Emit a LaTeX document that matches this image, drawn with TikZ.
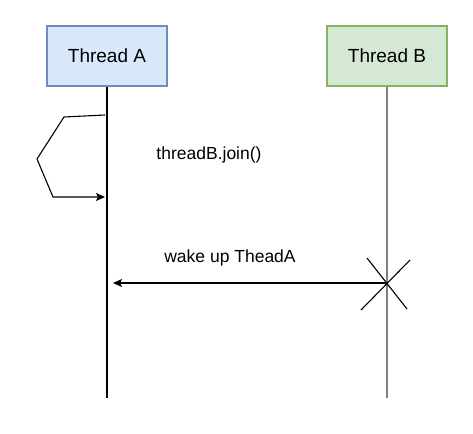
\documentclass[tikz,border=0pt]{standalone}
\usepackage{fontspec}
\setmainfont{Liberation Sans}
\usetikzlibrary{arrows.meta}
\definecolor{blfill}{HTML}{DAE8FC}
\definecolor{bldraw}{HTML}{6C8EBF}
\definecolor{grfill}{HTML}{D5E8D4}
\definecolor{grdraw}{HTML}{82B366}
\begin{document}
\begin{tikzpicture}[x=1pt,y=-1pt,
  thread/.style={draw, line width=1.1pt, minimum width=120pt, minimum height=60pt, inner sep=0pt, font=\fontsize{19}{22}\selectfont},
  lbl/.style={font=\fontsize{17.5}{20}\selectfont, inner sep=0pt},
  msg/.style={line width=1.1pt, -{Stealth[length=9pt,width=8pt,inset=2pt]}},
  life/.style={line width=1.1pt}]
\useasboundingbox (0,0) rectangle (473,433);
\node[thread, fill=blfill, draw=bldraw] (A) at (107,56) {Thread A};
\node[thread, fill=grfill, draw=grdraw] (B) at (387,56) {Thread B};
\coordinate (Aend) at (107,398);
\coordinate (Bend) at (387,398);
\draw[life] (A.south) -- (Aend);
\draw[life, draw=gray, line width=1.6pt] (B.south) -- (Bend);
% self loop
\coordinate (s0) at (105,115);
\coordinate (s1) at (64,117);
\coordinate (s2) at (37,159);
\coordinate (s3) at (53,197);
\coordinate (s4) at (105,197);
\draw[msg, line join=round] (s0) -- (s1) -- (s2) -- (s3) -- (s4);
\node[lbl] (t1) at (209,155) {threadB.join()};
% wake up
\coordinate (wk) at (387,283);
\coordinate (wa) at (113,283);
\draw[msg] (wk) -- (wa);
\node[lbl] (t2) at (230,258) {wake up TheadA};
% destroy X
\coordinate (x1) at (367,258);
\coordinate (x2) at (407,309);
\coordinate (x3) at (410,260);
\coordinate (x4) at (361,310);
\draw[line width=1.1pt] (x1) -- (x2);
\draw[line width=1.1pt] (x3) -- (x4);
\end{tikzpicture}
\end{document}
